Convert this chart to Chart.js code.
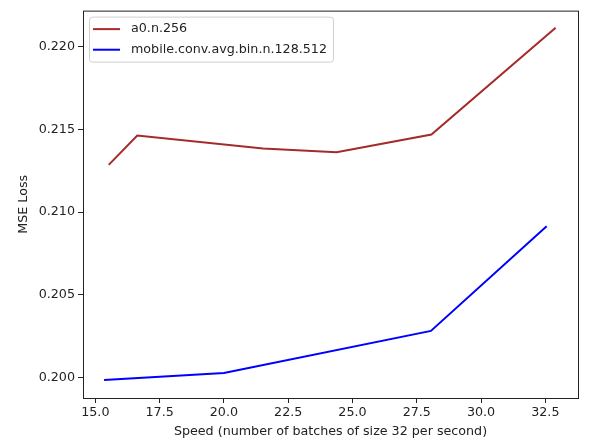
<!DOCTYPE html>
<html>
<head>
<meta charset="utf-8">
<script src="https://cdn.jsdelivr.net/npm/chart.js@4.4.1/dist/chart.umd.min.js"></script>
<style>
  html, body { margin: 0; padding: 0; background: #fff; }
  #wrap { width: 605px; height: 439px; }
</style>
</head>
<body>
<div id="wrap"><canvas id="c" width="605" height="439"></canvas></div>
<script>
// dados
const SERIES_NAMES = ["a0.n.256", "mobile.conv.avg.bin.n.128.512"];
const speedA = [15.52, 16.63, 21.52, 24.38, 28.07, 32.9];
const lossA = [0.21286, 0.21464, 0.21386, 0.21362, 0.2147, 0.22117];
const speedB = [15.34, 20.0, 28.05, 32.55];
const lossB = [0.19984, 0.20026, 0.20281, 0.20915];
const X_TICKS = [15.0, 17.5, 20.0, 22.5, 25.0, 27.5, 30.0, 32.5];
const Y_TICKS = [0.200, 0.205, 0.210, 0.215, 0.220];

const FONT = "DejaVu Sans";
const FONT_SIZE = 12.7;
const toPoints = (xs, ys) => xs.map((x, i) => ({ x, y: ys[i] }));

// moldura nos quatro lados + legenda dentro do gráfico (estilo matplotlib)
const framePlugin = {
  id: "frame",
  afterDraw(chart) {
    const { ctx, chartArea: a } = chart;
    ctx.save();
    ctx.strokeStyle = "#222";
    ctx.lineWidth = 1;
    ctx.strokeRect(a.left + 0.5, a.top + 0.5, a.right - a.left, a.bottom - a.top);

    // legenda
    ctx.font = `${FONT_SIZE}px "${FONT}"`;
    const textW = Math.max(...chart.data.datasets.map(d => ctx.measureText(d.label).width));
    const bx = a.left + 6, by = a.top + 6;
    const bw = 4 + 27 + 11 + textW + 6, bh = 45;
    ctx.fillStyle = "rgba(255,255,255,0.8)";
    ctx.strokeStyle = "#d0d0d0";
    ctx.beginPath();
    ctx.roundRect(bx + 0.5, by + 0.5, bw, bh, 3);
    ctx.fill();
    ctx.stroke();
    chart.data.datasets.forEach((d, i) => {
      const y = by + 12.5 + i * 20.6;
      ctx.strokeStyle = d.borderColor;
      ctx.lineWidth = 2;
      ctx.beginPath();
      ctx.moveTo(bx + 4, y);
      ctx.lineTo(bx + 31, y);
      ctx.stroke();
      ctx.fillStyle = "#222";
      ctx.textBaseline = "middle";
      ctx.fillText(d.label, bx + 42, y);
    });
    ctx.restore();
  }
};

new Chart(document.getElementById("c").getContext("2d"), {
  type: "line",
  data: {
    datasets: [
      { label: SERIES_NAMES[0], data: toPoints(speedA, lossA), borderColor: "#a52a2a", borderWidth: 2, pointRadius: 0, tension: 0, fill: false },
      { label: SERIES_NAMES[1], data: toPoints(speedB, lossB), borderColor: "#0000ff", borderWidth: 2, pointRadius: 0, tension: 0, fill: false }
    ]
  },
  options: {
    responsive: false,
    animation: false,
    layout: { padding: { top: 10, right: 27, left: 0, bottom: 0 } },
    plugins: { legend: { display: false }, tooltip: { enabled: false } },
    scales: {
      x: {
        type: "linear",
        min: 14.52,
        max: 33.77,
        afterBuildTicks: s => { s.ticks = X_TICKS.map(v => ({ value: v })); },
        afterFit: s => { s.height = 41; },
        grid: { drawOnChartArea: false, drawTicks: true, tickLength: 5, color: "#222" },
        border: { display: false },
        ticks: { color: "#222", font: { family: FONT, size: FONT_SIZE }, padding: 2, maxRotation: 0, callback: v => v.toFixed(1) },
        title: { display: true, text: "Speed (number of batches of size 32 per second)", color: "#222", font: { family: FONT, size: FONT_SIZE }, padding: { top: 0, bottom: 0 } }
      },
      y: {
        type: "linear",
        min: 0.19875,
        max: 0.2222,
        afterBuildTicks: s => { s.ticks = Y_TICKS.map(v => ({ value: v })); },
        afterFit: s => { s.width = 83; },
        grid: { drawOnChartArea: false, drawTicks: true, tickLength: 5, color: "#222" },
        border: { display: false },
        ticks: { color: "#222", font: { family: FONT, size: FONT_SIZE }, padding: 3, callback: v => v.toFixed(3) },
        title: { display: true, text: "MSE Loss", color: "#222", font: { family: FONT, size: FONT_SIZE }, padding: { top: 16, bottom: 0 } }
      }
    }
  },
  plugins: [framePlugin]
});
</script>
</body>
</html>
